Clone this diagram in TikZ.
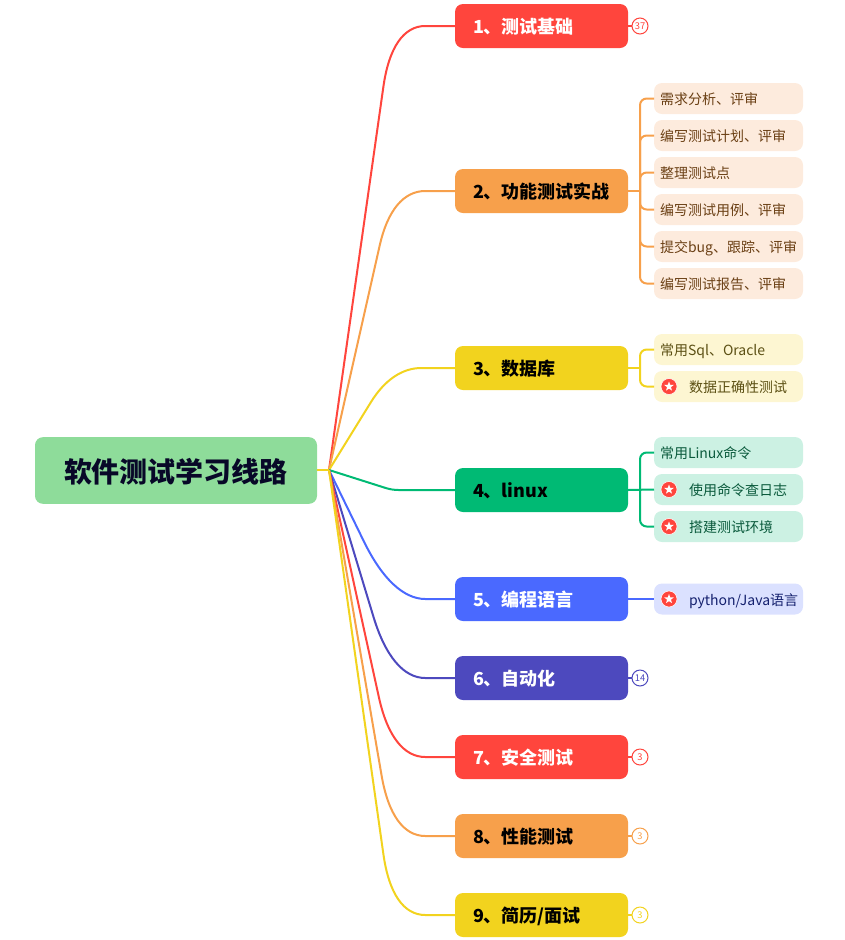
\documentclass[tikz,border=0pt]{standalone}
\usepackage{fontspec}
\setmainfont{Noto Sans CJK SC}
\usetikzlibrary{positioning, shapes.geometric, calc}

\definecolor{cred}{HTML}{FF453D}
\definecolor{corange}{HTML}{F7A04B}
\definecolor{cyellow}{HTML}{F2D31E}
\definecolor{cgreen}{HTML}{00BA74}
\definecolor{cblue}{HTML}{4A69FF}
\definecolor{cindigo}{HTML}{4D49BE}
\definecolor{croot}{HTML}{8EDC9A}
\definecolor{ctitle}{HTML}{080828}
\definecolor{oleaffill}{HTML}{FDEBDD}
\definecolor{oleaftext}{HTML}{6B4015}
\definecolor{yleaffill}{HTML}{FDF6D2}
\definecolor{yleaftext}{HTML}{5C5014}
\definecolor{gleaffill}{HTML}{CCF1E3}
\definecolor{gleaftext}{HTML}{0A5A3C}
\definecolor{bleaffill}{HTML}{DBE1FF}
\definecolor{bleaftext}{HTML}{14206E}

\begin{document}
\begin{tikzpicture}[
	x=0.75pt, y=-0.75pt,
	node distance=4.5pt and 19.5pt,
	every node/.style={outer sep=0pt},
	root/.style={rectangle, rounded corners=6pt, fill=croot, text=ctitle, minimum width=211.5pt, minimum height=50pt, text height=19.5pt, text depth=2pt, font=\fontsize{21}{21}\selectfont\bfseries, inner sep=0pt},
	branch/.style={rectangle, rounded corners=6pt, fill=#1, minimum height=33pt, text width=102.75pt, text height=13.8pt, text depth=2pt, inner xsep=13.5pt, inner ysep=0pt, align=left, font=\fontsize{13.5}{13.5}\selectfont\bfseries},
	leaf/.style n args={2}{rectangle, rounded corners=6pt, fill=#1, text=#2, minimum height=23.25pt, text width=102.75pt, text height=11.5pt, text depth=2pt, inner xsep=4.5pt, inner ysep=0pt, align=left, font=\fontsize{10.5}{10.5}\selectfont},
	oleaf/.style={leaf={oleaffill}{oleaftext}},
	yleaf/.style={leaf={yleaffill}{yleaftext}},
	gleaf/.style={leaf={gleaffill}{gleaftext}},
	bleaf/.style={leaf={bleaffill}{bleaftext}},
	starred/.style={execute at begin node=\hspace*{21.75pt}},
	badge/.style={circle, fill=cred, draw=white, line width=0.4pt, minimum size=12pt, inner sep=0pt},
	starmark/.style={star, star points=5, star point ratio=2.4, fill=white, minimum size=7.5pt, inner sep=0pt},
	count/.style={circle, draw=#1, text=#1, fill=white, line width=0.75pt, minimum size=12pt, inner sep=0pt, font=\fontsize{7}{7}\selectfont},
	link/.style={draw=#1, line width=1.5pt},
	twig/.style={draw=#1, line width=1.5pt, rounded corners=5pt}
]
	\useasboundingbox (0,0) rectangle (845,940);

	\node[root] (root) at (176,470.5) {软件测试学习线路};
	\coordinate (hub) at (329,470);
	\coordinate (bend) at (392,0);
	\coordinate (trunk) at (640,0);

	\node[branch=cred, text=white] (b1) at (541.5,26) {1、测试基础};
	\node[branch=corange] (b2) at (541.5,191) {2、功能测试实战};
	\node[branch=cyellow] (b3) at (541.5,368) {3、数据库};
	\node[branch=cgreen] (b4) at (541.5,490) {4、linux};
	\node[branch=cblue, text=white] (b5) at (541.5,599) {5、编程语言};
	\node[branch=cindigo, text=white, below=26.25pt of b5] (b6) {6、自动化};
	\node[branch=cred, text=white, below=26.25pt of b6] (b7) {7、安全测试};
	\node[branch=corange, below=26.25pt of b7] (b8) {8、性能测试};
	\node[branch=cyellow, below=26.25pt of b8] (b9) {9、简历/面试};

	\node[count=cred, right=3pt of b1] (n1) {37};
	\node[count=cindigo, right=3pt of b6] (n6) {14};
	\node[count=cred, right=3pt of b7] (n7) {3};
	\node[count=corange, right=3pt of b8] (n8) {3};
	\node[count=cyellow, right=3pt of b9] (n9) {3};

	% leaves of 2
	\node[oleaf] (a1) at (728.5,98.5) {需求分析、评审};
	\node[oleaf, below=of a1] (a2) {编写测试计划、评审};
	\node[oleaf, below=of a2] (a3) {整理测试点};
	\node[oleaf, below=of a3] (a4) {编写测试用例、评审};
	\node[oleaf, below=of a4] (a5) {提交bug、跟踪、评审};
	\node[oleaf, below=of a5] (a6) {编写测试报告、评审};

	% leaves of 3
	\node[yleaf] (c1) at (728.5,349.5) {常用Sql、Oracle};
	\node[yleaf, starred, below=of c1] (c2) {数据正确性测试};

	% leaves of 4
	\node[gleaf] (d1) at (728.5,452.5) {常用Linux命令};
	\node[gleaf, starred, below=of d1] (d2) {使用命令查日志};
	\node[gleaf, starred, below=of d2] (d3) {搭建测试环境};

	% leaf of 5
	\node[bleaf, starred] (e1) at (728.5,599) {python/Java语言};

	% star badges
	\foreach \l in {c2,d2,d3,e1} {
		\node[badge] (m\l) at ([xshift=11.25pt]\l.west) {};
		\node[starmark] (s\l) at (m\l) {};
	}

	% main links
	\foreach \b/\col/\d/\e in {b1/cred/46/25, b2/corange/42/25, b3/cyellow/30/22, b4/cgreen/5/5, b5/cblue/48/25, b6/cindigo/48/25, b7/cred/46/25, b8/corange/46/25, b9/cyellow/46/25} {
		\draw[link=\col] (hub)
			-- ($(bend |- \b)!{\d*1pt}!(hub)$)
			.. controls ($(bend |- \b)!{\d*0.35pt}!(hub)$) and ($(bend |- \b)+({\e*0.35pt},0)$)
			.. ($(bend |- \b)+({\e*1pt},0)$)
			-- (\b.west);
	}
	\draw[cyellow, line width=1.5pt] (root.east |- hub) -- (hub);

	% count stubs
	\draw[twig=cred] (b1) -- (n1);
	\draw[twig=cindigo] (b6) -- (n6);
	\draw[twig=cred] (b7) -- (n7);
	\draw[twig=corange] (b8) -- (n8);
	\draw[twig=cyellow] (b9) -- (n9);

	% twigs
	\draw[twig=corange] (b2.east) -- (trunk |- b2);
	\foreach \l in {a1,a2,a3,a4,a5,a6} {
		\draw[twig=corange] (trunk |- b2) -- (trunk |- \l) -- (\l.west);
	}
	\draw[twig=cyellow] (b3.east) -- (trunk |- b3);
	\foreach \l in {c1,c2} {
		\draw[twig=cyellow] (trunk |- b3) -- (trunk |- \l) -- (\l.west);
	}
	\draw[twig=cgreen] (b4.east) -- (d2.west);
	\foreach \l in {d1,d3} {
		\draw[twig=cgreen] (trunk |- b4) -- (trunk |- \l) -- (\l.west);
	}
	\draw[twig=cblue] (b5.east) -- (e1.west);
\end{tikzpicture}
\end{document}
